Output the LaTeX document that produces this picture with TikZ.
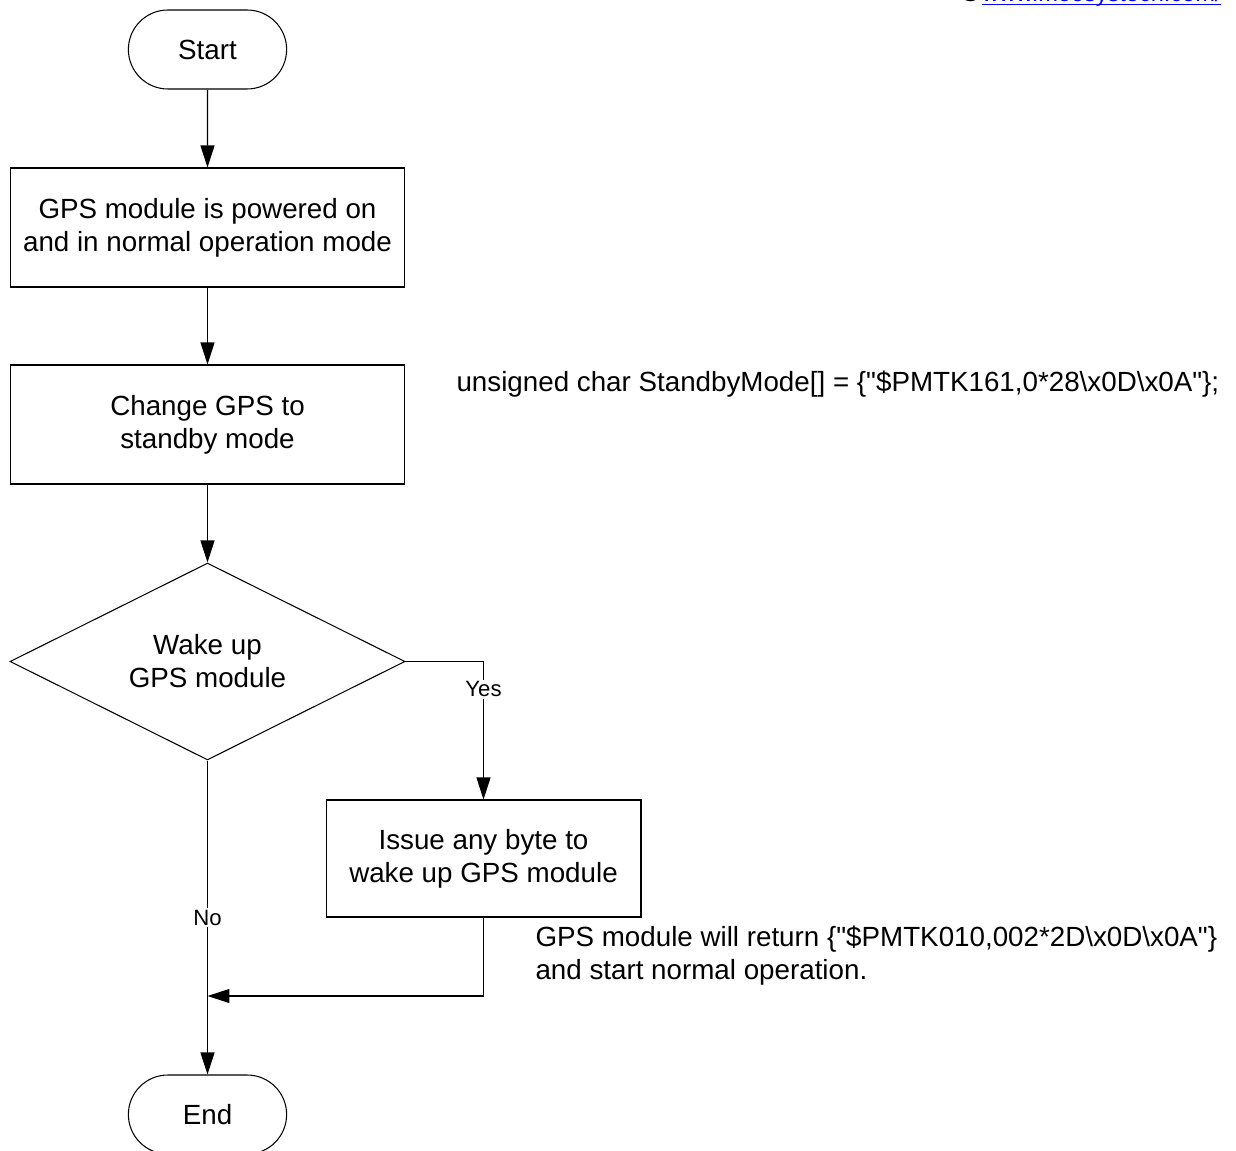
\documentclass[tikz,border=0pt]{standalone}
\usepackage{fontspec}
\setmainfont{Liberation Sans}
\usetikzlibrary{shapes.geometric, shapes.misc, arrows.meta}

\begin{document}
\begin{tikzpicture}[x = 0.02cm, y = -0.02cm, line width = 0.6pt,
    font = \fontsize{15.8}{18.8}\selectfont,
    > = {Triangle[length=0.44cm, width=0.28cm]},
    term/.style = {draw, rounded rectangle, minimum width=3.4cm, minimum height=1.58cm},
    proc/.style = {draw, rectangle, align=center, minimum width=7.9cm, minimum height=2.38cm},
    decision/.style = {draw, diamond, aspect=2, align=center, minimum width=7.9cm, minimum height=3.94cm},
    lbl/.style = {fill=white, inner sep=1pt, font=\fontsize{12.6}{15}\selectfont}]
    \useasboundingbox (0,0) rectangle (1236,1151);

    \node[term] (start) at (207.5,49.5) {Start};
    \node[proc] (powered) at (207.5,227.5) {GPS module is powered on\\and in normal operation mode};
    \node[proc] (standby) at (207.5,424.5) {Change GPS to\\standby mode};
    \node[decision] (wake) at (207.5,661.5) {Wake up\\GPS module};
    \node[proc, minimum width=6.3cm, minimum height=2.34cm] (issue) at (483.5,858.5) {Issue any byte to\\wake up GPS module};
    \node[term] (end) at (207.5,1114.5) {End};
    \coordinate (join) at (207.5,996);

    % notes
    \node[anchor=west, inner sep=0pt] (cmd) at (456,384)
        {unsigned char StandbyMode[] = \{\textquotedbl\$PMTK161,0*28\textbackslash x0D\textbackslash x0A\textquotedbl\};};
    \node[anchor=west, align=left, inner sep=0pt] (reply) at (535,956)
        {GPS module will return \{\textquotedbl\$PMTK010,002*2D\textbackslash x0D\textbackslash x0A\textquotedbl\}\\and start normal operation.};
    \node[anchor=base east, inner sep=0pt, font=\fontsize{13.4}{16}\selectfont] (web) at (1222,2)
        {{\fontsize{18}{20}\selectfont\copyright}\textcolor{blue}{\underline{\smash{www.meosystech.com/}}}};

    \draw[->] (start) -- (powered);
    \draw[->] (powered) -- (standby);
    \draw[->] (standby) -- (wake);
    \draw[->] (wake.east) -| (issue.north) node[lbl, pos=0.6]{Yes};
    \draw[->] (wake.south) -- (end.north) node[lbl, midway]{No};
    \draw[->] (issue.south) |- (join);
\end{tikzpicture}
\end{document}
